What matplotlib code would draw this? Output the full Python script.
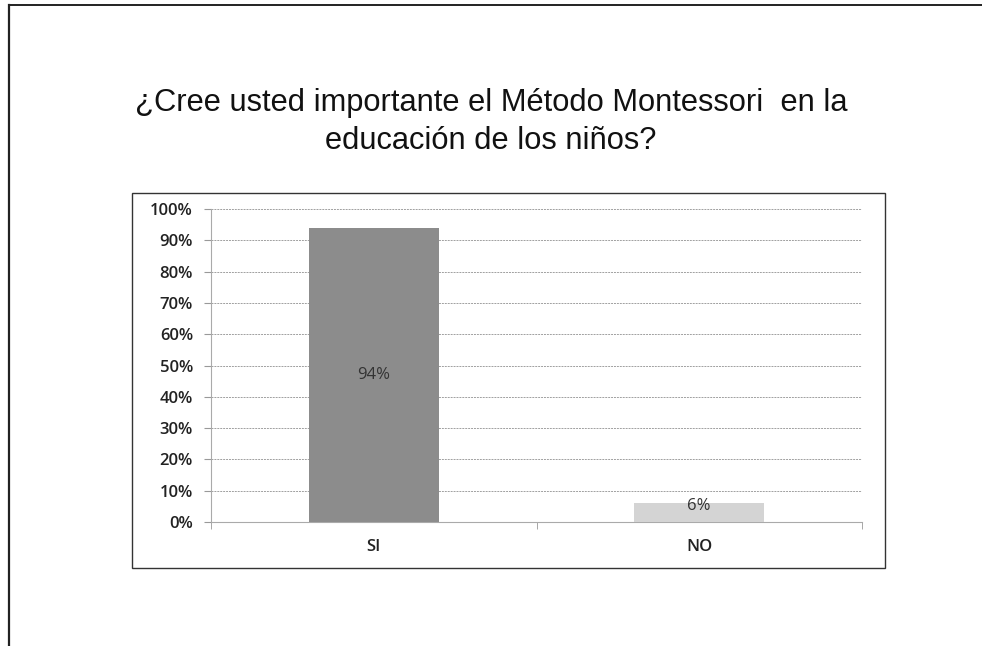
import matplotlib
matplotlib.use("Agg")
import matplotlib.pyplot as plt
from matplotlib.patches import Rectangle
from matplotlib.lines import Line2D

categories = ["SI", "NO"]
values = [94, 6]
labels = ["94%", "6%"]
yticks = [0, 10, 20, 30, 40, 50, 60, 70, 80, 90, 100]
ytick_labels = [f"{v}%" for v in yticks]
title = "¿Cree usted importante el Método Montessori  en la\neducación de los niños?"

W, H = 982, 646
fig = plt.figure(figsize=(W / 100, H / 100), dpi=100)
fig.patch.set_facecolor("white")

# outer page frame (left and top lines)
fig.add_artist(Line2D([9 / W, 9 / W], [0, 1 - 5 / H], transform=fig.transFigure,
                      color="#222222", lw=1.6))
fig.add_artist(Line2D([9 / W, 1], [1 - 5 / H, 1 - 5 / H], transform=fig.transFigure,
                      color="#222222", lw=1.4))

# chart box
fig.add_artist(Rectangle((132 / W, 1 - 568 / H), (885 - 132) / W, (568 - 193) / H,
                         transform=fig.transFigure, fill=False, edgecolor="#333333", lw=1.0))

fig.text(491 / W, 1 - 122 / H, title, ha="center", va="center", fontsize=22.2,
         family="Liberation Sans", color="#111111", linespacing=1.32)

ax = fig.add_axes([211 / W, 1 - 522 / H, (862 - 211) / W, (522 - 209) / H])
x = list(range(len(categories)))
colors = ["#8c8c8c", "#d4d4d4"]
ax.bar(x, values, width=0.4, color=colors, zorder=3)
ax.set_xlim(-0.5, len(categories) - 0.5)
ax.set_ylim(0, 100)
ax.set_yticks(yticks)
ax.set_yticklabels(ytick_labels, family="Open Sans", fontsize=12, color="#222222",
                   fontweight="semibold")
ax.set_xticks(x)
ax.set_xticklabels(categories, family="Open Sans", fontsize=12, color="#222222",
                   fontweight="semibold")
ax.set_xticks([-0.5, 0.5, 1.5], minor=True)
ax.tick_params(axis="x", which="major", length=0, pad=12)
ax.tick_params(axis="x", which="minor", length=5, color="#999999", direction="out")
ax.tick_params(axis="y", length=5, color="#999999", pad=8)
ax.yaxis.grid(True, color="#a0a0a0", lw=0.7, linestyle=(0, (2, 1)), zorder=0)
for s in ["top", "right"]:
    ax.spines[s].set_visible(False)
ax.spines["left"].set_color("#aaaaaa")
ax.spines["bottom"].set_color("#aaaaaa")
ax.spines["left"].set_linewidth(0.8)
ax.spines["bottom"].set_linewidth(0.8)

for xi, v, lab in zip(x, values, labels):
    yy = v / 2 if v > 20 else v * 0.6 + 1.5
    ax.text(xi, yy, lab, ha="center", va="center", family="Open Sans",
            fontsize=12, color="#333333", zorder=4)

fig.savefig("out.png", dpi=100)
